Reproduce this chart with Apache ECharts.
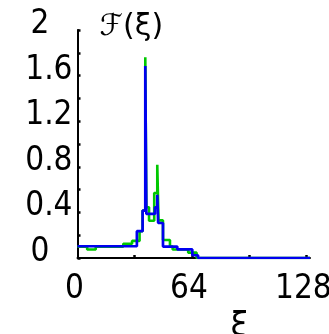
<!DOCTYPE html>
<html>
<head>
<meta charset="utf-8">
<style>
  html, body { margin: 0; padding: 0; background: #fff; }
  #chart { width: 329px; height: 334px; }
</style>
<script src="https://cdn.jsdelivr.net/npm/echarts@6/dist/echarts.min.js"></script>
</head>
<body>
<div id="chart"></div>
<script>
// step edges (xi) and the value held from each edge to the next
const blueX = [0, 33.2, 36.4, 37.9, 38.5, 43.3, 44.6, 45.1, 47.8, 55.8, 64.2, 67.4, 130];
const blueY = [0.103, 0.235, 0.416, 1.685, 0.387, 0.445, 0.554, 0.307, 0.1, 0.075, 0.024, 0, 0];

const greenX = [0, 5.4, 10.2, 25.6, 30.5, 34.7, 36.4, 37.9, 38.5, 40.0, 42.9, 44.6, 45.3, 47.8, 51.7, 53.2, 61.9, 66.6, 130];
const greenY = [0.1, 0.075, 0.1, 0.125, 0.15, 0.235, 0.416, 1.76, 0.445, 0.327, 0.57, 0.817, 0.33, 0.158, 0.1, 0.075, 0.047, 0, 0];

const xTicks = [32, 64, 96, 128];
const xLabels = [0, 64, 128];

const numFont = "'Liberation Sans Narrow', 'DejaVu Sans Condensed', sans-serif";
const symFont = "'DejaVu Sans', sans-serif";

const zip = (xs, ys) => xs.map((x, i) => [x, ys[i]]);

const chart = echarts.init(document.getElementById("chart"));
chart.setOption({
  animation: false,
  grid: { left: 77.5, right: 19, top: 30, bottom: 76, outerBoundsMode: "none" },
  xAxis: {
    type: "value",
    min: 0,
    max: 130,
    name: "ξ",
    nameLocation: "middle",
    nameGap: 30,
    nameTextStyle: { fontFamily: symFont, fontSize: 33, color: "#000", padding: [0, 0, 0, 92] },
    splitLine: { show: false },
    axisLine: { lineStyle: { color: "#000", width: 2 } },
    axisTick: { inside: true, length: 3, lineStyle: { color: "#000", width: 2.5 }, customValues: xTicks },
    axisLabel: {
      customValues: xLabels,
      margin: 15,
      color: "#000",
      fontFamily: numFont,
      fontSize: 33,
      padding: [0, 6, 0, 0]
    }
  },
  yAxis: {
    type: "value",
    min: 0,
    max: 2,
    interval: 0.2,
    name: "ℱ(ξ)",
    nameLocation: "end",
    nameGap: 3,
    nameTextStyle: { fontFamily: symFont, fontSize: 30, color: "#000", align: "left", verticalAlign: "middle", padding: [0, 0, 0, 22] },
    splitLine: { show: false },
    axisLine: { lineStyle: { color: "#000", width: 2 } },
    axisTick: { inside: true, length: 3, lineStyle: { color: "#000", width: 2.5 } },
    axisLabel: {
      margin: 5,
      color: "#000",
      fontFamily: numFont,
      fontSize: 33,
      padding: [0, 0, 11, 0],
      formatter: (v) => {
        const k = Math.round(v * 10);
        if (k % 4) return "";
        return k % 10 === 0 ? "{i|" + k / 10 + "}" : (k / 10).toFixed(1);
      },
      rich: { i: { fontFamily: numFont, fontSize: 33, color: "#000", padding: [0, 23, 0, 0] } }
    }
  },
  series: [
    {
      type: "line",
      step: "end",
      showSymbol: false,
      data: zip(greenX, greenY),
      lineStyle: { color: "#00c800", width: 2.6 }
    },
    {
      type: "line",
      step: "end",
      showSymbol: false,
      data: zip(blueX, blueY),
      lineStyle: { color: "#0000f0", width: 2.7 }
    }
  ]
});
</script>
</body>
</html>
